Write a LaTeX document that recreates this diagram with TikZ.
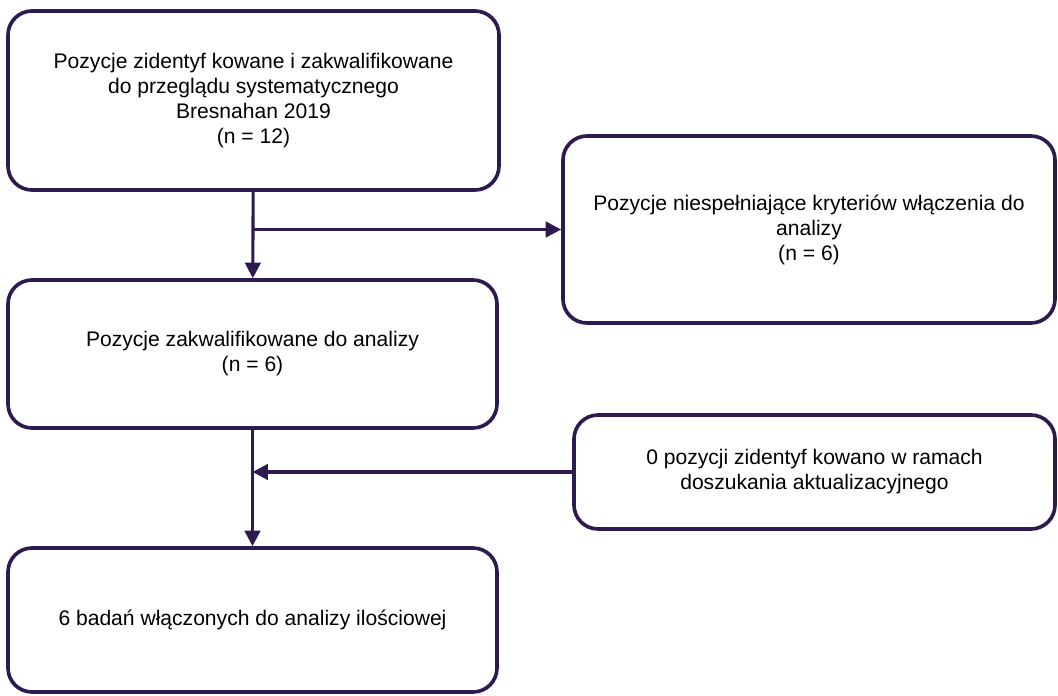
\documentclass[tikz,border=0pt]{standalone}
\usepackage{fontspec}
\setmainfont{Liberation Sans}
\usepackage{xcolor}
\usepackage{tikz}
\usetikzlibrary{arrows.meta,positioning}
\definecolor{flowline}{RGB}{45,27,80}

\begin{document}
\begin{tikzpicture}[font=\fontsize{15pt}{17.8pt}\selectfont,
    arr/.style={draw=flowline, line width=2.2pt, -{Triangle[length=11pt,width=11pt]}}]
        \tikzstyle{box} = [draw=flowline, line width=2.6pt, rounded corners=0.6cm, align=center, inner sep=0pt]
        \useasboundingbox (0,0) rectangle (26.45,-17.375);
        \node[box, minimum width=12.275cm, minimum height=4.475cm] (found) at (6.3375,-2.5125) {Pozycje zidentyf kowane i zakwalifikowane\\do przeglądu systematycznego\\Bresnahan 2019\\(n = 12)};
        \node[box, minimum width=12.3cm, minimum height=4.675cm] (excl) at (20.225,-5.7375) {Pozycje niespełniające kryteriów włączenia do\\analizy\\(n = 6)};
        \node[box, minimum width=12.225cm, minimum height=3.7cm] (qual) at (6.3125,-8.85) {Pozycje zakwalifikowane do analizy\\(n = 6)};
        \node[box, minimum width=12.025cm, minimum height=2.85cm] (upd) at (20.3625,-11.8) {0 pozycji zidentyf kowano w ramach\\doszukania aktualizacyjnego};
        \node[box, minimum width=12.225cm, minimum height=3.6cm] (incl) at (6.3125,-15.5) {6 badań włączonych do analizy ilościowej};

        \draw [arr] (found) -- (qual);
        \draw [arr] (found.south |- excl.west) -- (excl.west);
        \draw [arr] (qual) -- (incl);
        \draw [arr] (upd.west) -- (qual.south |- upd.west);
        \end{tikzpicture}
\end{document}
